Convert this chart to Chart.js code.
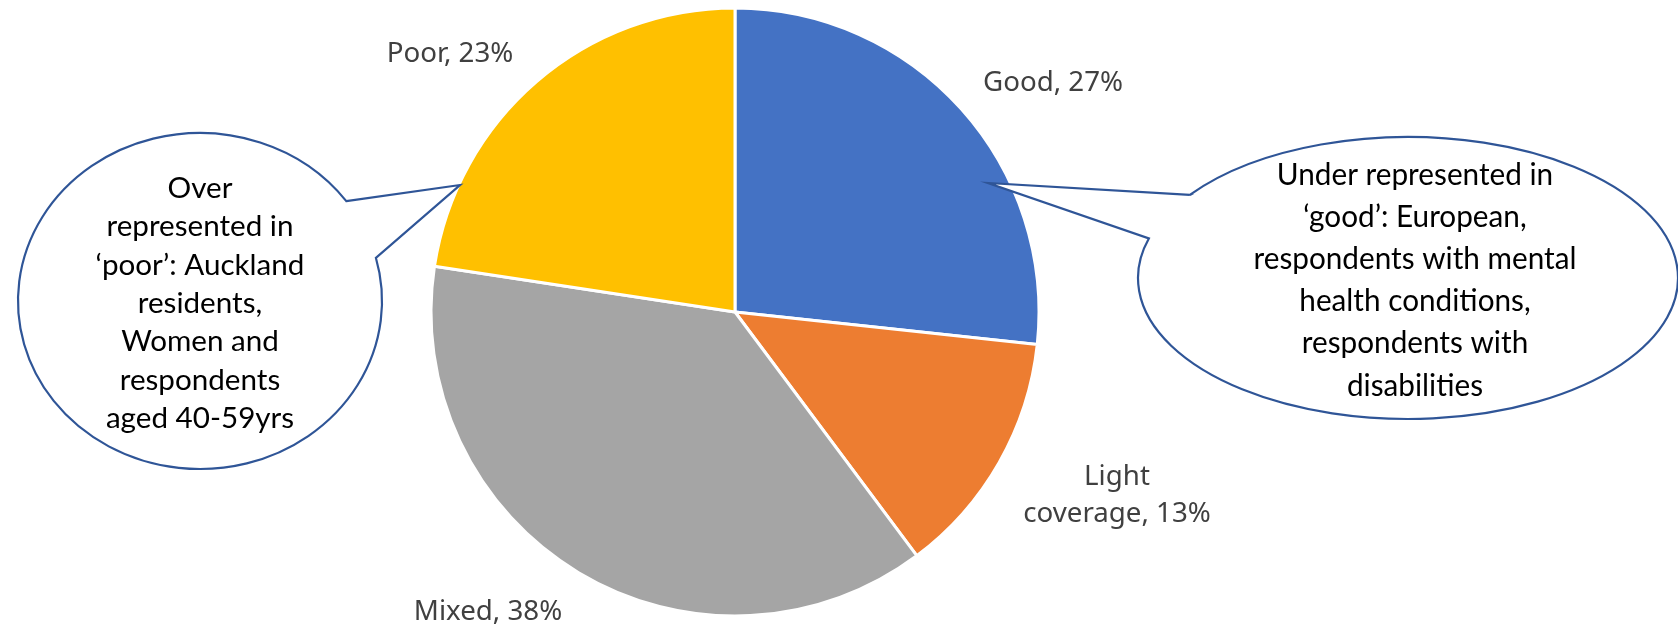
<!DOCTYPE html>
<html>
<head>
<meta charset="utf-8">
<title>Coverage pie</title>
<script src="https://cdn.jsdelivr.net/npm/chart.js@4.4.1/dist/chart.umd.min.js"></script>
<style>
  html, body { margin: 0; padding: 0; background: #fff; }
  #wrap { width: 1678px; height: 626px; position: relative; }
</style>
</head>
<body>
<div id="wrap"><canvas id="pieChart"></canvas></div>
<script>
// data (the printed labels are rounded)
const categories = ['Good', 'Light coverage', 'Mixed', 'Poor'];
const shares = [26.7, 13.1, 37.6, 22.6];
const sliceColors = ['#4472C4', '#ED7D31', '#A5A5A5', '#FFC000'];

const poorNote = ['Over', 'represented in', '\u2018poor\u2019: Auckland', 'residents,',
                  'Women and', 'respondents', 'aged 40-59yrs'];
const goodNote = ['Under represented in', '\u2018good\u2019: European,', 'respondents with mental',
                  'health conditions,', 'respondents with', 'disabilities'];

// label placement, relative to the pie centre
const labelSpots = [[318, -221], [382, 173], [-247, 308], [-285, -250]];

function percentText(i) {
  return Math.round(shares[i]) + '%';
}

function drawLines(ctx, lines, cx, y0, step, font, fitLine, fitWidth, color) {
  ctx.save();
  ctx.font = font;
  ctx.fillStyle = color;
  ctx.textAlign = 'center';
  ctx.textBaseline = 'alphabetic';
  const sx = fitWidth / ctx.measureText(fitLine).width;
  lines.forEach(function(t, k) {
    ctx.save();
    ctx.translate(cx, y0 + k * step);
    ctx.scale(sx, 1);
    ctx.fillText(t, 0, 0);
    ctx.restore();
  });
  ctx.restore();
}

// speech bubble: ellipse with a wedge tail pointing at tip
function bubble(ctx, b) {
  const d = Math.PI / 180;
  ctx.save();
  ctx.beginPath();
  ctx.moveTo(b.cx + b.rx * Math.cos(b.a1 * d), b.cy + b.ry * Math.sin(b.a1 * d));
  ctx.lineTo(b.tip[0], b.tip[1]);
  ctx.lineTo(b.cx + b.rx * Math.cos(b.a2 * d), b.cy + b.ry * Math.sin(b.a2 * d));
  ctx.ellipse(b.cx, b.cy, b.rx, b.ry, 0, b.a2 * d, b.a1 * d, b.ccw);
  ctx.closePath();
  ctx.fillStyle = '#ffffff';
  ctx.fill();
  ctx.lineWidth = 2.2;
  ctx.strokeStyle = '#2F5597';
  ctx.lineJoin = 'miter';
  ctx.stroke();
  ctx.restore();
}

const calloutPlugin = {
  id: 'callouts',
  afterDatasetsDraw(chart) {
    const ctx = chart.ctx;
    const arc0 = chart.getDatasetMeta(0).data[0];
    const cx = arc0.x, cy = arc0.y;

    // slice labels
    chart.getDatasetMeta(0).data.forEach(function(arc, i) {
      const name = categories[i];
      const px = cx + labelSpots[i][0], py = cy + labelSpots[i][1];
      let lines = [name + ', ' + percentText(i)];
      if (name.indexOf(' ') > 0) {
        const cut = name.indexOf(' ');
        lines = [name.slice(0, cut), name.slice(cut + 1) + ', ' + percentText(i)];
      }
      drawLines(ctx, lines, px, py, 37, '28px "Noto Sans", "Open Sans", sans-serif',
                'Good, 27%', 140, '#404040');
    });

    bubble(ctx, { cx: cx - 535, cy: cy - 11, rx: 182, ry: 168,
                  a1: -36.5, a2: -14.9, ccw: false, tip: [cx - 275, cy - 127] });
    drawLines(ctx, poorNote, cx - 535, cy - 114, 38.3, '28px Lato, "Noto Sans", sans-serif',
              'represented in', 187, '#000000');

    bubble(ctx, { cx: cx + 673, cy: cy - 34, rx: 270, ry: 141,
                  a1: 216.1, a2: 196.3, ccw: true, tip: [cx + 253, cy - 129] });
    drawLines(ctx, goodNote, cx + 680, cy - 127.5, 42.2, '31px Lato, "Noto Sans", sans-serif',
              'respondents with mental', 323, '#000000');
  }
};

const CHART = document.getElementById('pieChart');
const pieChart = new Chart(CHART, {
  type: 'pie',
  data: {
    labels: categories,
    datasets: [{
      data: shares,
      backgroundColor: sliceColors,
      borderColor: '#ffffff',
      borderWidth: 3
    }]
  },
  options: {
    responsive: true,
    maintainAspectRatio: false,
    animation: false,
    radius: 304,
    layout: { padding: { left: 0, right: 208, top: 9, bottom: 11 } },
    plugins: {
      legend: { display: false },
      tooltip: { enabled: false }
    }
  },
  plugins: [calloutPlugin]
});
</script>
</body>
</html>
